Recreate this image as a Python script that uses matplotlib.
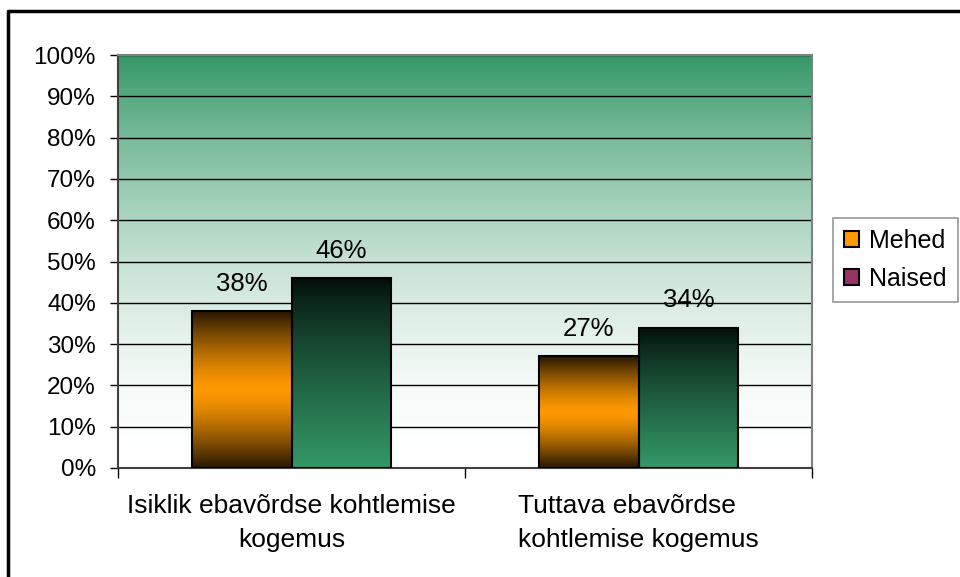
import numpy as np
import matplotlib.pyplot as plt
from matplotlib.patches import Patch
from matplotlib.lines import Line2D

categories = ["Isiklik ebavõrdse kohtlemise\nkogemus", "Tuttava ebavõrdse\nkohtlemise kogemus"]
series = ["Mehed", "Naised"]
mehed = [0.38, 0.27]
naised = [0.46, 0.34]
legend_colors = ["#ff9900", "#993366"]

plt.rcParams['font.family'] = ['Liberation Sans', 'DejaVu Sans']

fig = plt.figure(figsize=(9.6, 5.77), dpi=100)
ax = fig.add_axes([118 / 960, 1 - 468 / 577, 694 / 960, 413 / 577])

# background gradient: white at bottom to green at top
green = np.array([52, 152, 102]) / 255
white = np.ones(3)
yy = np.linspace(0, 1, 256)[:, None]
m = yy ** 1.8
bg = white * (1 - m[..., None]) + green * m[..., None]
bg = np.repeat(bg, 2, axis=1)
ax.imshow(bg, extent=[0, 1, 0, 1], transform=ax.transAxes, origin='lower',
          aspect='auto', zorder=0, interpolation='bilinear')
ax.set_facecolor('none')

x = np.arange(len(categories))
w = 0.288
b1 = ax.bar(x - w / 2, mehed, w, color='none', edgecolor='black', linewidth=1.5, zorder=3)
b2 = ax.bar(x + w / 2, naised, w, color='none', edgecolor='black', linewidth=1.5, zorder=3)

# gradient fills for bars (row 0 = top of bar)
t = np.linspace(0, 1, 256)[:, None]
orange = np.array([255, 153, 0]) / 255
d = np.abs(2 * t - 1) ** 1.4
og = orange * (1 - 0.85 * d)
og = np.repeat(og[:, None, :], 2, axis=1)
dark = np.array([0, 12, 8]) / 255
k = t ** 0.8
gg = dark * (1 - k) + green * k
gg = np.repeat(gg[:, None, :], 2, axis=1)

for bars, img in ((b1, og), (b2, gg)):
    for b in bars:
        x0, y0, bw, bh = b.get_x(), b.get_y(), b.get_width(), b.get_height()
        im = ax.imshow(img, extent=[x0, x0 + bw, y0, y0 + bh], origin='upper',
                       aspect='auto', zorder=2, interpolation='bilinear')
        im.set_clip_path(b)

for bars, vals in ((b1, mehed), (b2, naised)):
    for b, v in zip(bars, vals):
        ax.annotate(f"{v:.0%}", (b.get_x() + b.get_width() / 2, b.get_height()),
                    xytext=(0, 11), textcoords='offset points', ha='center', va='bottom',
                    fontsize=18.5, zorder=5)

ax.set_xlim(-0.5, len(categories) - 0.5)
ax.set_ylim(0, 1)
ax.set_yticks(np.arange(0, 1.01, 0.1))
ax.set_yticklabels([f"{int(round(v * 100))}%" for v in np.arange(0, 1.01, 0.1)])
ax.yaxis.grid(True, color='black', linewidth=1, zorder=1)
ax.set_axisbelow(True)
ax.tick_params(axis='y', length=6, width=1, pad=10, labelsize=17.5)

ax.set_xticks(x)
ax.set_xticklabels(categories, fontsize=19, linespacing=1.5)
ax.get_xticklabels()[1].set_multialignment('left')
ax.tick_params(axis='x', length=0, pad=19)
ax.set_xticks(np.arange(-0.5, len(categories)), minor=True)
ax.tick_params(axis='x', which='minor', length=7, width=1)

for s in ('top', 'right'):
    ax.spines[s].set_color('#808080')
    ax.spines[s].set_linewidth(1.5)
for s in ('left', 'bottom'):
    ax.spines[s].set_color('#404040')
    ax.spines[s].set_linewidth(1.5)

handles = [Patch(facecolor=c, edgecolor='black', linewidth=1.5, label=s)
           for c, s in zip(legend_colors, series)]
leg = fig.legend(handles=handles, loc='center left', bbox_to_anchor=(833 / 960, 1 - 260 / 577),
                 fontsize=18, frameon=True, fancybox=False, handlelength=0.6, handleheight=0.6,
                 handletextpad=0.4, labelspacing=0.55, borderpad=0.45, borderaxespad=0)
leg.get_frame().set_edgecolor('#808080')
leg.get_frame().set_linewidth(1.2)

# outer border (top and left)
fig.add_artist(Line2D([8 / 960, 8 / 960, 1], [0, 1 - 11 / 577, 1 - 11 / 577],
                      transform=fig.transFigure, color='black', linewidth=2.5))

fig.savefig("out.png", dpi=100)
